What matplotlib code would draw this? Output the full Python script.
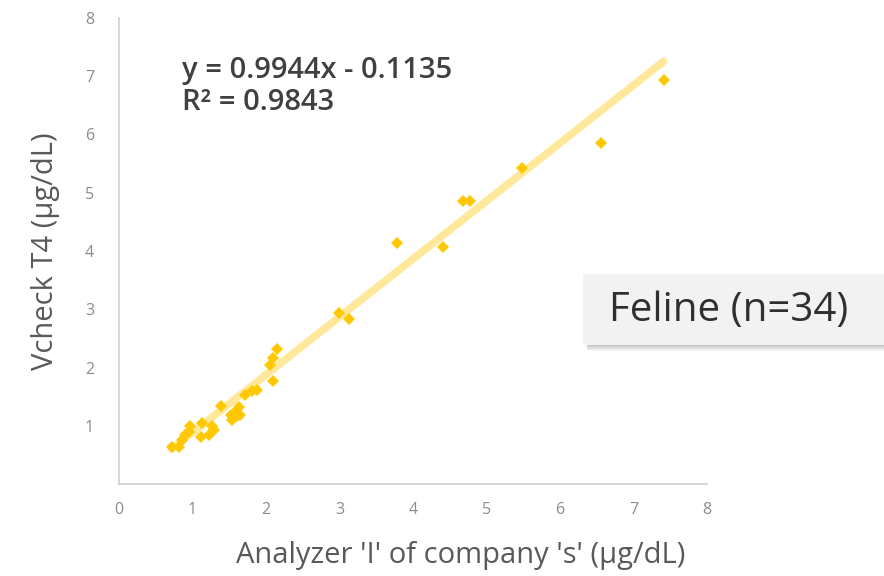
import matplotlib
matplotlib.use("Agg")
import matplotlib.pyplot as plt
from matplotlib.patches import Rectangle
import numpy as np

plt.rcParams['font.family'] = ['Open Sans', 'DejaVu Sans']

# Data
analyzer_i = [0.72, 0.81, 0.86, 0.90, 0.97, 0.95, 1.11, 1.13, 1.22, 1.27, 1.29,
              1.39, 1.52, 1.54, 1.58, 1.63, 1.65, 1.60, 1.72, 1.81, 1.88, 2.05,
              2.09, 2.10, 2.15, 2.99, 3.13, 3.78, 4.41, 4.68, 4.78, 5.48, 6.56, 7.41]
vcheck_t4 = [0.64, 0.64, 0.76, 0.84, 0.99, 0.90, 0.81, 1.04, 0.84, 0.99, 0.93,
             1.34, 1.19, 1.10, 1.24, 1.33, 1.19, 1.16, 1.53, 1.60, 1.62, 2.04,
             1.76, 2.16, 2.31, 2.93, 2.83, 4.13, 4.07, 4.86, 4.86, 5.42, 5.86, 6.94]
slope = 0.9944
intercept = -0.1135
r_squared = 0.9843
x_ticks = [0, 1, 2, 3, 4, 5, 6, 7, 8]
y_ticks = [1, 2, 3, 4, 5, 6, 7, 8]
group_label = "Feline (n=34)"

W, H = 884, 576
fig = plt.figure(figsize=(W / 100, H / 100), dpi=100)
ax = fig.add_axes([119 / W, (H - 484) / H, (707 - 119) / W, (484 - 18) / H])

xs = np.array([min(analyzer_i), max(analyzer_i)])
ax.plot(xs, slope * xs + intercept, color='#FFE89A', lw=5.5,
        solid_capstyle='round', zorder=2)
ax.plot(analyzer_i, vcheck_t4, linestyle='none', marker='D', ms=6,
        color='#FFC800', markeredgewidth=0, zorder=3)

ax.set_xlim(0, 8)
ax.set_ylim(0, 8)
ax.set_xticks(x_ticks)
ax.set_yticks(y_ticks)
ax.tick_params(length=0, labelsize=11.5, labelcolor='#8C8C8C')
ax.tick_params(axis='x', pad=13)
ax.tick_params(axis='y', pad=18)
for s in ['top', 'right']:
    ax.spines[s].set_visible(False)
for s in ['left', 'bottom']:
    ax.spines[s].set_color('#D0D0D0')
    ax.spines[s].set_linewidth(1.2)

ax.set_xlabel("Analyzer 'I' of company 's' (μg/dL)", fontsize=21,
              color='#595959', va='center')
ax.xaxis.set_label_coords((461 - 119) / (707 - 119), -(556 - 484) / (484 - 18))
ax.set_ylabel("Vcheck T4 (μg/dL)", fontsize=21, color='#595959', labelpad=18)

eq_text = f"y = {slope}x - {abs(intercept)}\nR² = {r_squared}"
fig.text(182 / W, 1 - 56 / H, eq_text, fontsize=21, fontweight='semibold',
         color='#404040', va='top', ha='left', linespacing=1.12)

# Label box with shadow
bx0, by0, bx1, by1 = 583, 274, 884, 345
for i in range(6):
    a = 0.28 * (1 - i / 6)
    fig.patches.append(Rectangle(((bx0 + 4) / W, 1 - (by1 + i + 1) / H),
                                 (bx1 - bx0) / W, 1 / H,
                                 transform=fig.transFigure, facecolor='#404040',
                                 edgecolor='none', alpha=a, zorder=5))
fig.patches.append(Rectangle((bx0 / W, 1 - by1 / H), (bx1 - bx0) / W,
                             (by1 - by0) / H, transform=fig.transFigure,
                             facecolor='#F2F2F2', edgecolor='none', zorder=6))
fig.text(609 / W, 1 - 311 / H, group_label, fontsize=29, color='#303030',
         va='center', ha='left', zorder=7)

fig.savefig("out.png", dpi=100, facecolor='white')
